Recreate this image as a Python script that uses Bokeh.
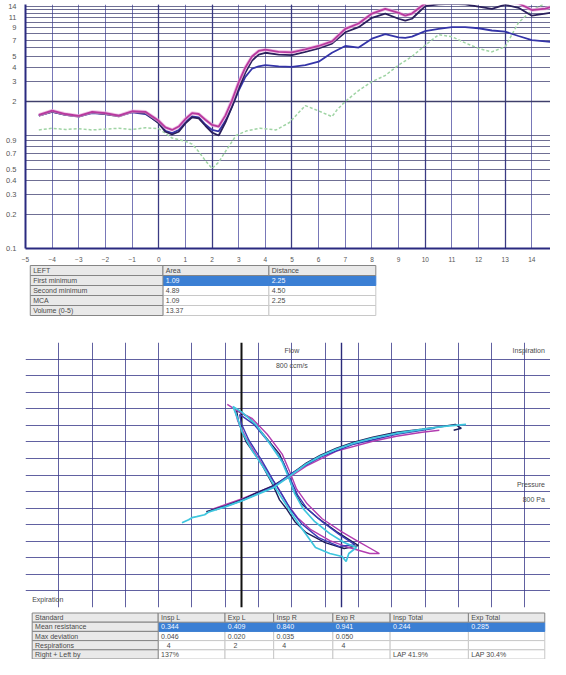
from bokeh.plotting import figure
from bokeh.models import FixedTicker, Range1d, Grid, Label, CustomJSTickFormatter
from bokeh.layouts import column
from bokeh.embed import file_html
from bokeh.resources import INLINE
from bokeh.core.properties import value

FONT = "Liberation Sans"
TXT = "#4a4a4a"

# ---------------- acoustic rhinometry: area (cm2) vs distance (cm) ----------------
dist = [-4.5, -4.0, -3.5, -3.0, -2.5, -2.0, -1.5, -1.0, -0.5,
        0.0, 0.25, 0.5, 0.75, 1.0, 1.25, 1.5, 1.75, 2.0, 2.25, 2.5, 2.75, 3.0, 3.25, 3.5, 3.75,
        4.0, 4.5, 5.0, 5.5, 6.0, 6.5, 7.0, 7.5, 8.0, 8.5, 9.0,
        9.25,
        9.5, 10.0, 10.5, 11.0, 11.5, 12.0, 12.5, 13.0, 13.5, 14.0, 14.5,
        14.9]
area_magenta = [1.52, 1.66, 1.55, 1.49, 1.62, 1.58, 1.50, 1.64, 1.62,
                1.35, 1.18, 1.12, 1.20, 1.40, 1.58, 1.55, 1.38, 1.24, 1.20, 1.50, 2.05, 2.95, 4.00, 5.00, 5.60,
                5.75, 5.50, 5.45, 5.80, 6.20, 6.80, 8.80, 9.80, 12.0, 13.2, 12.2,
                11.5,
                12.0, 14.8, 15.3, 15.4, 15.3, 15.3, 15.2, 15.4, 14.8, 12.9, 13.3,
                14.0]
area_navy = [1.50, 1.63, 1.52, 1.47, 1.60, 1.55, 1.48, 1.62, 1.58,
             1.28, 1.08, 1.02, 1.08, 1.28, 1.45, 1.42, 1.22, 1.06, 1.00, 1.30, 1.80, 2.60, 3.60, 4.60, 5.20,
             5.40, 5.20, 5.15, 5.50, 5.90, 6.50, 8.20, 9.10, 11.0, 12.0, 10.8,
             10.4,
             10.8, 14.0, 14.5, 14.6, 14.5, 13.8, 13.2, 14.4, 13.5, 11.5, 12.0,
             12.4]
area_blue = [1.50, 1.62, 1.52, 1.48, 1.58, 1.55, 1.50, 1.60, 1.55,
             1.30, 1.10, 1.05, 1.12, 1.32, 1.48, 1.45, 1.25, 1.12, 1.09, 1.35, 1.80, 2.50, 3.30, 3.90, 4.10,
             4.20, 4.10, 4.05, 4.20, 4.50, 5.40, 6.20, 6.00, 7.20, 7.90, 7.40,
             7.30,
             7.50, 8.40, 8.80, 9.10, 9.10, 8.90, 8.50, 8.30, 7.60, 7.00, 6.80,
             6.70]
dist_green = [-4.5, -4.0, -3.5, -3.0, -2.5, -2.0, -1.5, -1.0, -0.5, 0.0,
              0.5, 1.0, 1.25, 1.5, 1.75, 2.0, 2.25, 2.5,
              2.9, 3.3, 3.8, 4.4, 4.9, 5.2, 5.5,
              6.0, 6.5, 6.7, 7.0, 7.5,
              8.0, 8.5, 9.0, 9.5, 10.0, 10.5, 11.0, 11.5, 12.0, 12.5, 13.0, 13.5, 14.0, 14.5]
area_green = [1.12, 1.16, 1.13, 1.15, 1.12, 1.14, 1.16, 1.13, 1.17, 1.15,
              0.95, 0.89, 0.84, 0.72, 0.60, 0.51, 0.58, 0.72,
              1.00, 1.10, 1.16, 1.12, 1.30, 1.55, 1.84,
              1.65, 1.47, 1.70, 2.00, 2.50,
              3.00, 3.40, 4.20, 5.00, 6.30, 7.80, 7.50, 6.60, 5.90, 5.50, 6.10, 10.0, 12.8, 14.8]

x_ticks = list(range(-5, 16))
x_grid = list(range(-4, 16))
y_tick_labels = [0.1, 0.2, 0.3, 0.4, 0.5, 0.7, 0.9, 2, 3, 4, 5, 7, 9, 11, 14]
y_grid = [0.2, 0.3, 0.4, 0.5, 0.6, 0.7, 0.8, 0.9, 1, 2, 3, 4, 5, 6, 7, 8, 9, 10, 11, 12, 13, 14]

# ---------------- table 1 ----------------
t1_header = ["LEFT", "Area", "Distance"]
t1_labels = ["First minimum", "Second minimum", "MCA", "Volume (0-5)"]
t1_area = ["1.09", "4.89", "1.09", "13.37"]
t1_distance = ["2.25", "4.50", "2.25", ""]

# ---------------- rhinomanometry: flow (cm3/s) vs pressure (Pa) ----------------
cyan_a_p = [-330, -310, -300, -286, -262, -249, -200, -151, -100, -57, -6, 43, 86, 134, 186, 243, 314, 391, 457, 523]
cyan_a_f = [-288, -270, -258, -252, -240, -222, -192, -156, -114, -78, -6, 66, 114, 156, 192, 222, 252, 276, 294, 306]
navy_a_p = [-257, -200, -151, -100, -57, -6, 43, 86, 134, 186, 243, 314, 391, 457, 491, 509, 486]
navy_a_f = [-222, -186, -150, -102, -66, 0, 72, 120, 162, 198, 228, 258, 276, 294, 306, 282, 270]
mag_a_p = [-243, -151, -57, -6, 43, 134, 243, 314, 391, 443]
mag_a_f = [-210, -144, -66, -12, 54, 144, 204, 234, 258, 270]
blue_a_p = [-229, -151, -57, 0, 86, 186, 314, 429]
blue_a_f = [-210, -156, -72, 12, 108, 186, 246, 282]

navy_b_p = [-166, -129, -86, -37, -14, 3, 29, 77, 134, 186, 200, 157, 100, 43, 9, -14, -37, -57, -94, -137, -160, -166]
navy_b_f = [390, 348, 246, 126, 18, -84, -174, -258, -342, -408, -426, -444, -408, -348, -282, -210, -150, -60, 78, 198, 318, 390]
mag_b_p = [-194, -166, -120, -74, -29, -6, 14, 46, 91, 149, 200, 263, 234, 171, 114, 57, 17, -14, -40, -69, -103, -137, -163, -171]
mag_b_f = [426, 390, 342, 246, 126, 18, -84, -174, -264, -342, -402, -474, -474, -438, -396, -330, -258, -174, -84, 6, 108, 222, 330, 390]
cyan_b_p = [-177, -149, -109, -69, -29, -9, 9, 34, 69, 114, 157, 194, 171, 163, 151, 114, 71, 37, 6, -23, -51, -80, -120, -149, -163, -177]
cyan_b_f = [414, 378, 306, 198, 78, -18, -114, -204, -282, -354, -408, -438, -474, -522, -492, -474, -438, -342, -252, -162, -72, 30, 150, 258, 342, 414]
blue_b_p = [-157, -114, -69, -26, -3, 17, 46, 91, 143, 189, 143, 80, 29, -3, -29, -57, -91, -129, -151, -157]
blue_b_f = [366, 306, 198, 78, -30, -120, -204, -282, -360, -420, -432, -378, -294, -210, -120, -30, 90, 210, 306, 366]

grid_steps = [-700, -600, -500, -400, -300, -200, -100, 0, 100, 200, 300, 400, 500, 600, 700]

# ---------------- table 2 ----------------
t2_header = ["Standard", "Insp L", "Exp L", "Insp R", "Exp R", "Insp Total", "Exp Total"]
t2_labels = ["Mean resistance", "Max deviation", "Respirations", "Right + Left by"]
t2_mean = ["0.344", "0.409", "0.840", "0.941", "0.244", "0.285"]
t2_maxdev = ["0.046", "0.020", "0.035", "0.050", "", ""]
t2_resp = ["4", "2", "4", "4", "", ""]
t2_rl = ["137%", "", "", "", "LAP 41.9%", "LAP 30.4%"]

# ================= figure 1 =================
p1 = figure(width=550, height=264, x_range=Range1d(-5, 14.7), y_range=Range1d(0.1, 14.44),
            y_axis_type="log", output_backend="svg", toolbar_location=None,
            min_border_left=25, min_border_right=0, min_border_top=4, min_border_bottom=14)
p1.outline_line_color = None
p1.background_fill_color = "white"
p1.xaxis.ticker = FixedTicker(ticks=x_ticks)
p1.yaxis.ticker = FixedTicker(ticks=y_tick_labels)
p1.yaxis.formatter = CustomJSTickFormatter(code="return String(Math.round(tick*10)/10)")
for ax in (p1.xaxis[0], p1.yaxis[0]):
    ax.axis_line_color = "#2a2a80"
    ax.axis_line_width = 2
    ax.major_tick_line_color = None
    ax.minor_tick_line_color = None
    ax.major_label_text_color = "#555555"
    ax.major_label_text_font = FONT
p1.xaxis.major_label_text_font_size = "6.5px"
p1.yaxis.major_label_text_font_size = "7.5px"
p1.xaxis.major_label_standoff = 2
p1.yaxis.major_label_standoff = 3
p1.xgrid.ticker = FixedTicker(ticks=x_grid)
p1.xgrid.grid_line_color = "#4b4ba0"
p1.xgrid.grid_line_alpha = 0.75
p1.ygrid.ticker = FixedTicker(ticks=y_grid)
p1.ygrid.grid_line_color = "#3f3f70"
p1.ygrid.grid_line_alpha = 0.75
p1.add_layout(Grid(dimension=0, ticker=FixedTicker(ticks=[0, 2, 5, 10, 13]),
                   grid_line_color="#34347e", grid_line_width=1.3, grid_line_alpha=0.9))
p1.add_layout(Grid(dimension=1, ticker=FixedTicker(ticks=[2]),
                   grid_line_color="#3a3a66", grid_line_width=1.4, grid_line_alpha=0.9))

p1.line(dist_green, area_green, line_color="#9fd4a4", line_width=1.5, line_dash="3 2")
p1.line(dist, area_blue, line_color="#3434a8", line_width=1.8)
p1.line(dist, area_navy, line_color="#2a1f5c", line_width=1.8)
p1.line(dist, area_magenta, line_color="#e8a8dc", line_width=3.5, line_alpha=0.7)
p1.line(dist, area_magenta, line_color="#b8389e", line_width=1.8)


def table_fig(width, height, edges, top0, rh, header, labels, rows, sel, xpad):
    p = figure(width=width, height=height, x_range=Range1d(0, width), y_range=Range1d(height, 0),
               x_axis_type=None, y_axis_type=None, output_backend="svg", toolbar_location=None,
               min_border=0)
    p.outline_line_color = None
    p.grid.visible = False
    g = dict(l=[], r=[], t=[], b=[])
    w = dict(l=[], r=[], t=[], b=[])
    s = dict(l=[], r=[], t=[], b=[])
    tx, ty, tt, tc = [], [], [], []

    def add(d, l, r, t, b):
        d["l"].append(l); d["r"].append(r); d["t"].append(t); d["b"].append(b)

    ncol = len(edges) - 1
    for j in range(ncol):
        add(g, edges[j], edges[j + 1], top0, top0 + rh)
        tx.append(edges[j] + 3); ty.append(top0 + rh / 2); tt.append(header[j]); tc.append(TXT)
    for i, lab in enumerate(labels):
        t = top0 + rh * (i + 1)
        add(g, edges[0], edges[1], t, t + rh)
        tx.append(edges[0] + 3); ty.append(t + rh / 2); tt.append(lab); tc.append(TXT)
        for j in range(1, ncol):
            add(s if i == sel else w, edges[j], edges[j + 1], t, t + rh)
            tx.append(edges[j] + xpad[i]); ty.append(t + rh / 2)
            tt.append(rows[i][j - 1]); tc.append("#f4f8ff" if i == sel else TXT)
    p.quad(left=w["l"], right=w["r"], top=w["t"], bottom=w["b"], fill_color="white",
           line_color="#c8c8c8", line_width=1)
    p.quad(left=s["l"], right=s["r"], top=s["t"], bottom=s["b"], fill_color="#3b7fd4",
           line_color="#3b7fd4", line_width=1)
    p.quad(left=g["l"], right=g["r"], top=g["t"], bottom=g["b"], fill_color="#e9e9e9",
           line_color="#858585", line_width=1)
    p.text(x=tx, y=ty, text=tt, text_color=tc, text_font=value(FONT), text_font_size="7px",
           text_baseline="middle", text_align="left")
    return p


p2 = table_fig(550, 54, [5, 144, 255, 367], 1, 10, t1_header, t1_labels,
               [[a, d] for a, d in zip(t1_area, t1_distance)], 0, [3, 3, 3, 3])

# ================= figure 3 =================
p3 = figure(width=550, height=293, x_range=Range1d(-800, 776.8), y_range=Range1d(-800, 800),
            output_backend="svg", toolbar_location=None,
            min_border_left=5, min_border_right=0, min_border_top=24, min_border_bottom=4)
p3.outline_line_color = None
p3.axis.visible = False
p3.xgrid.ticker = FixedTicker(ticks=grid_steps)
p3.ygrid.ticker = FixedTicker(ticks=grid_steps)
p3.grid.grid_line_color = "#3a3a8a"
p3.grid.grid_line_alpha = 0.8
p3.add_layout(Grid(dimension=0, ticker=FixedTicker(ticks=[-150]), grid_line_color="#111111",
                   grid_line_width=2))
p3.add_layout(Grid(dimension=0, ticker=FixedTicker(ticks=[150]), grid_line_color="#2a2a7a",
                   grid_line_width=1.4))

p3.line(navy_b_p, navy_b_f, line_color="#1e1e5a", line_width=1.4)
p3.line(mag_b_p, mag_b_f, line_color="#b23cb0", line_width=1.4)
p3.line(blue_b_p, blue_b_f, line_color="#3a3ab4", line_width=1.4)
p3.line(cyan_b_p, cyan_b_f, line_color="#3ec6de", line_width=1.7)
p3.line(mag_a_p, mag_a_f, line_color="#b23cb0", line_width=1.4)
p3.line(navy_a_p, navy_a_f, line_color="#1e1e5a", line_width=1.4)
p3.line(blue_a_p, blue_a_f, line_color="#3a3ab4", line_width=1.4)
p3.line(cyan_a_p, cyan_a_f, line_color="#3ec6de", line_width=1.8)

for x, y, t, al in [(0, 752, "Flow", "center"), (0, 661, "800 ccm/s", "center"),
                    (760, 752, "Inspiration", "right"), (760, -57, "Pressure", "right"),
                    (760, -148, "800 Pa", "right"), (-780, -752, "Expiration", "left")]:
    p3.add_layout(Label(x=x, y=y, text=t, text_font=FONT, text_font_size="7px",
                        text_align=al, text_baseline="middle", text_color=TXT))

p4 = table_fig(550, 48, [7, 139, 209, 260, 322, 382, 464, 544], 1.5, 9.2, t2_header, t2_labels,
               [t2_mean, t2_maxdev, t2_resp, t2_rl], 0, [3, 3, 9, 3])

layout = column(p1, p2, p3, p4, spacing=0)
open("out.html", "w").write(file_html(layout, INLINE))
